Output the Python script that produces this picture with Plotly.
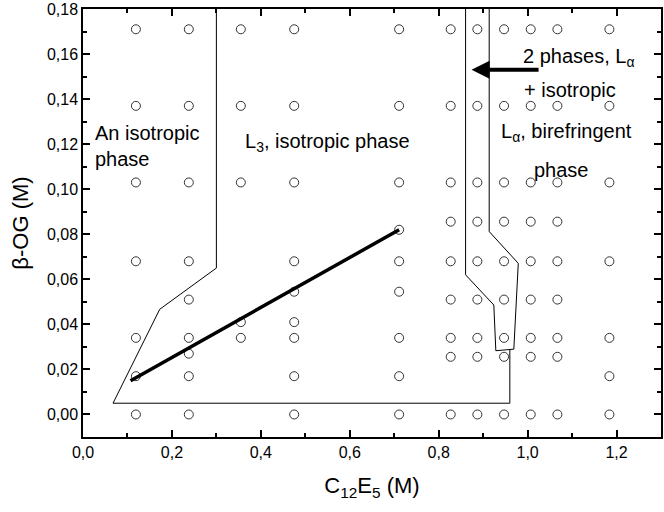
import plotly.graph_objects as go

# Sample grid (C12E5 concentration, beta-OG concentration)
col_x = [0.119, 0.238, 0.355, 0.475, 0.711, 0.827, 0.887, 0.947, 1.007, 1.067, 1.184]
col_y = [
    [0.171, 0.137, 0.103, 0.068, 0.034, 0.017, 0.0],
    [0.171, 0.137, 0.103, 0.068, 0.051, 0.034, 0.027, 0.017, 0.0],
    [0.171, 0.137, 0.103, 0.041, 0.034],
    [0.171, 0.137, 0.103, 0.068, 0.0545, 0.041, 0.034, 0.017, 0.0],
    [0.171, 0.137, 0.103, 0.082, 0.068, 0.0545, 0.034, 0.017, 0.0],
    [0.171, 0.137, 0.103, 0.0856, 0.068, 0.051, 0.034, 0.0256, 0.0],
    [0.171, 0.137, 0.103, 0.0856, 0.068, 0.051, 0.034, 0.0256, 0.0],
    [0.171, 0.137, 0.103, 0.0856, 0.068, 0.051, 0.034, 0.0256, 0.0],
    [0.171, 0.137, 0.103, 0.0856, 0.068, 0.051, 0.034, 0.0256, 0.0],
    [0.171, 0.137, 0.103, 0.0856, 0.068, 0.051, 0.034, 0.0256, 0.0],
    [0.171, 0.137, 0.103, 0.068, 0.034, 0.017, 0.0],
]

# L3 phase boundary
l3_x = [0.300, 0.300, 0.1726, 0.0675, 0.960, 0.960]
l3_y = [0.180, 0.065, 0.0467, 0.005, 0.005, 0.029]

# Two-phase region boundary
tp_x = [0.8605, 0.8605, 0.924, 0.9285, 0.969, 0.979, 0.9136, 0.9136]
tp_y = [0.180, 0.062, 0.0486, 0.0283, 0.029, 0.0671, 0.0812, 0.180]

# Thick dilution line
dil_x = [0.107, 0.711]
dil_y = [0.015, 0.082]

pts_x = []
pts_y = []
for xv, ys in zip(col_x, col_y):
    for yv in ys:
        pts_x.append(xv)
        pts_y.append(yv)

FONT = "Liberation Sans, Arial, sans-serif"

fig = go.Figure()
fig.add_trace(go.Scatter(x=l3_x, y=l3_y, mode="lines",
                         line=dict(color="black", width=1), showlegend=False))
fig.add_trace(go.Scatter(x=tp_x, y=tp_y, mode="lines",
                         line=dict(color="black", width=1), showlegend=False))
fig.add_trace(go.Scatter(x=pts_x, y=pts_y, mode="markers",
                         marker=dict(symbol="circle-open", size=9, color="#333333",
                                     line=dict(width=1)),
                         showlegend=False))
fig.add_trace(go.Scatter(x=dil_x, y=dil_y, mode="lines",
                         line=dict(color="black", width=3.5), showlegend=False))

tf = dict(family=FONT, size=20, color="black")
ann = [
    dict(x=0.022, y=0.119, text="An isotropic<br>phase", xanchor="left", yanchor="middle", align="left"),
    dict(x=0.36, y=0.1206, text="L<sub>3</sub>, isotropic phase", xanchor="left", yanchor="middle"),
    dict(x=0.985, y=0.1584, text="2 phases, L<sub>α</sub>", xanchor="left", yanchor="middle"),
    dict(x=0.988, y=0.1441, text="+ isotropic", xanchor="left", yanchor="middle"),
    dict(x=0.936, y=0.125, text="L<sub>α</sub>, birefringent", xanchor="left", yanchor="middle"),
    dict(x=1.010, y=0.1086, text="phase", xanchor="left", yanchor="middle"),
]
for a in ann:
    fig.add_annotation(xref="x", yref="y", showarrow=False, font=tf, **a)

fig.add_annotation(x=0.874, y=0.153, ax=1.028, ay=0.153, xref="x", yref="y",
                   axref="x", ayref="y", showarrow=True, arrowhead=2,
                   arrowsize=0.9, arrowwidth=4, arrowcolor="black", text="",
                   standoff=0)

axis_common = dict(showline=True, linecolor="black", linewidth=1.5, mirror="allticks",
                   ticks="inside", ticklen=7, tickwidth=1.5, tickcolor="black",
                   showgrid=False, zeroline=False, automargin=False,
                   tickfont=dict(family=FONT, size=16, color="black"))

fig.update_xaxes(range=[0, 1.3], dtick=0.2, tick0=0, tickformat=".1f",
                 minor=dict(ticks="inside", ticklen=4, dtick=0.1, tickcolor="black", tickwidth=1.5),
                 title=dict(text="C<sub>12</sub>E<sub>5</sub> (M)",
                            font=dict(family=FONT, size=22, color="black"), standoff=18),
                 **axis_common)
fig.update_yaxes(range=[-0.01, 0.18], dtick=0.02, tick0=0, tickformat=".2f",
                 minor=dict(ticks="inside", ticklen=4, dtick=0.01, tickcolor="black", tickwidth=1.5),
                 title=dict(text="β-OG (M)",
                            font=dict(family=FONT, size=22, color="black"), standoff=12),
                 **axis_common)

fig.update_layout(width=664, height=512, margin=dict(l=83, r=3, t=9, b=75),
                  plot_bgcolor="white", paper_bgcolor="white", separators=", ")

fig.write_html("out.html", config={"displayModeBar": False},
               post_script="document.body.style.margin='0';document.body.style.overflow='hidden';")
